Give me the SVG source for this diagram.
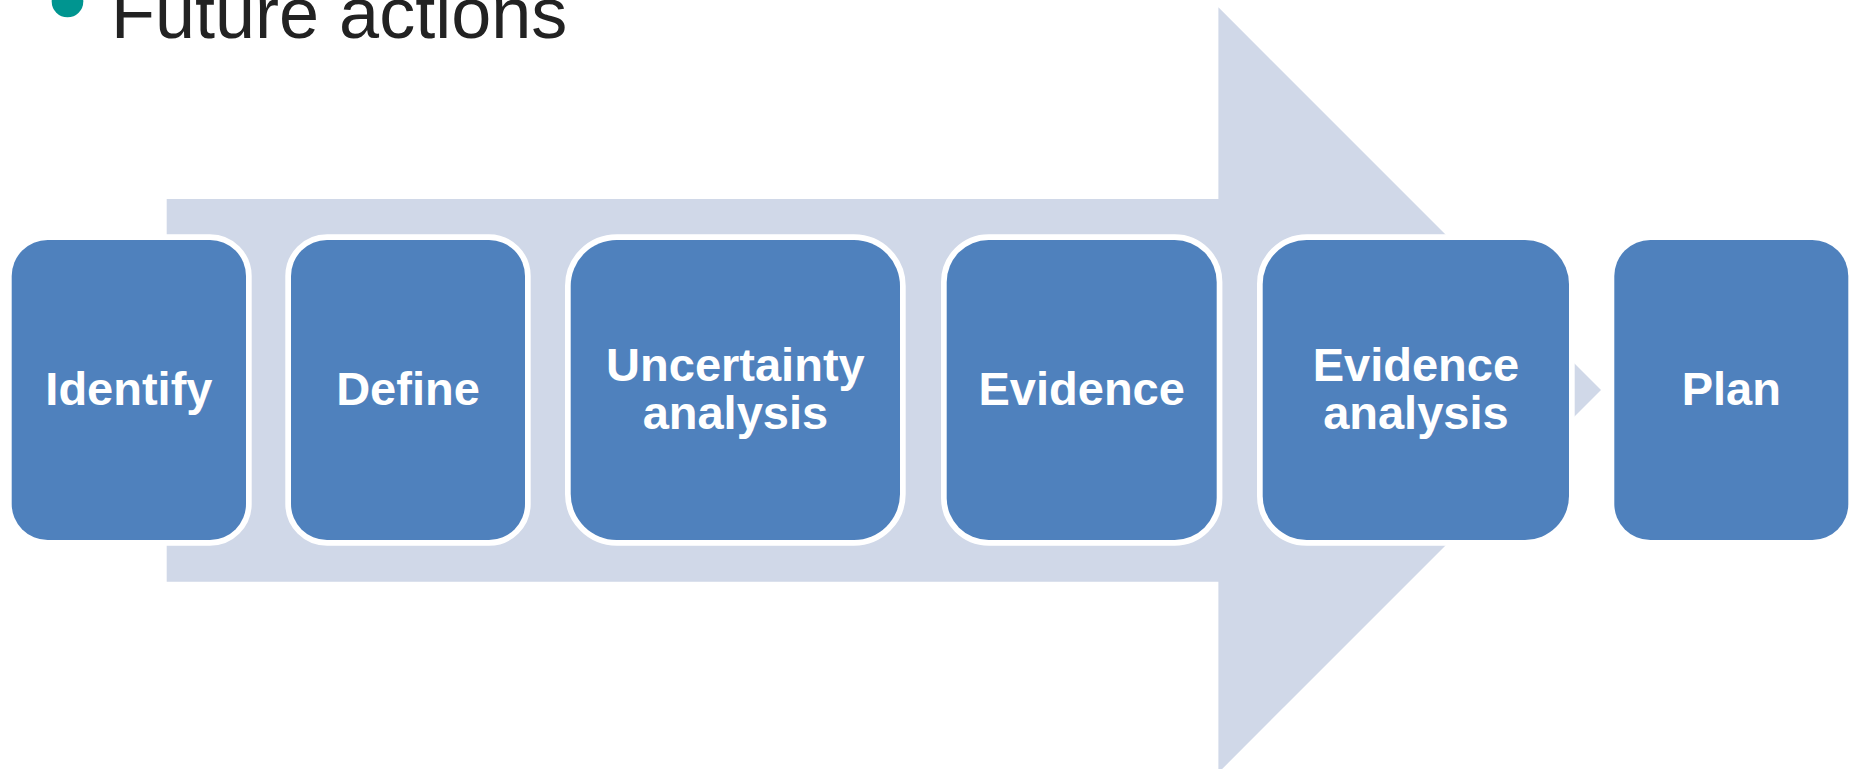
<svg xmlns="http://www.w3.org/2000/svg" width="1849" height="769" viewBox="0 0 1849 769">
  <style>
    .box { fill: #4F81BD; stroke: #FFFFFF; stroke-width: 11.4; paint-order: stroke fill; }
    .lbl { font-family: "Liberation Sans", Arial, sans-serif; font-weight: bold; font-size: 47px; fill: #FFFFFF; text-anchor: middle; }
    .title { font-family: "Liberation Sans", Arial, sans-serif; font-size: 72px; fill: #222222; }
  </style>
  <rect x="0" y="0" width="1849" height="769" fill="#FFFFFF"/>
  <g id="heading">
    <circle cx="67.5" cy="1.5" r="15.8" fill="#009590"/>
    <text class="title" x="111" y="37.7">Future actions</text>
  </g>
  <g id="connectors">
    <polygon points="166.7,199 1218.4,199 1218.4,7.3 1601,390 1218.4,772.7 1218.4,581.7 166.7,581.7" fill="#D0D8E8"/>
  </g>
  <g id="node-identify">
    <rect class="box" x="11.7" y="240" width="234.3" height="300" rx="36" ry="36"/>
    <text class="lbl" x="128.9" y="405">Identify</text>
  </g>
  <g id="node-define">
    <rect class="box" x="291" y="240" width="234" height="300" rx="36" ry="36"/>
    <text class="lbl" x="408" y="405">Define</text>
  </g>
  <g id="node-uncertainty">
    <rect class="box" x="570.7" y="240" width="329.3" height="300" rx="46" ry="46"/>
    <text class="lbl" x="735.4" y="381">Uncertainty</text>
    <text class="lbl" x="735.4" y="429">analysis</text>
  </g>
  <g id="node-evidence">
    <rect class="box" x="946.7" y="240" width="270" height="300" rx="42" ry="42"/>
    <text class="lbl" x="1081.7" y="405">Evidence</text>
  </g>
  <g id="node-evidence-analysis">
    <rect class="box" x="1262.7" y="240" width="306.3" height="300" rx="44" ry="44"/>
    <text class="lbl" x="1415.9" y="381">Evidence</text>
    <text class="lbl" x="1415.9" y="429">analysis</text>
  </g>
  <g id="node-plan">
    <rect class="box" x="1614.3" y="240" width="234" height="300" rx="36" ry="36"/>
    <text class="lbl" x="1731.3" y="405">Plan</text>
  </g>
</svg>
